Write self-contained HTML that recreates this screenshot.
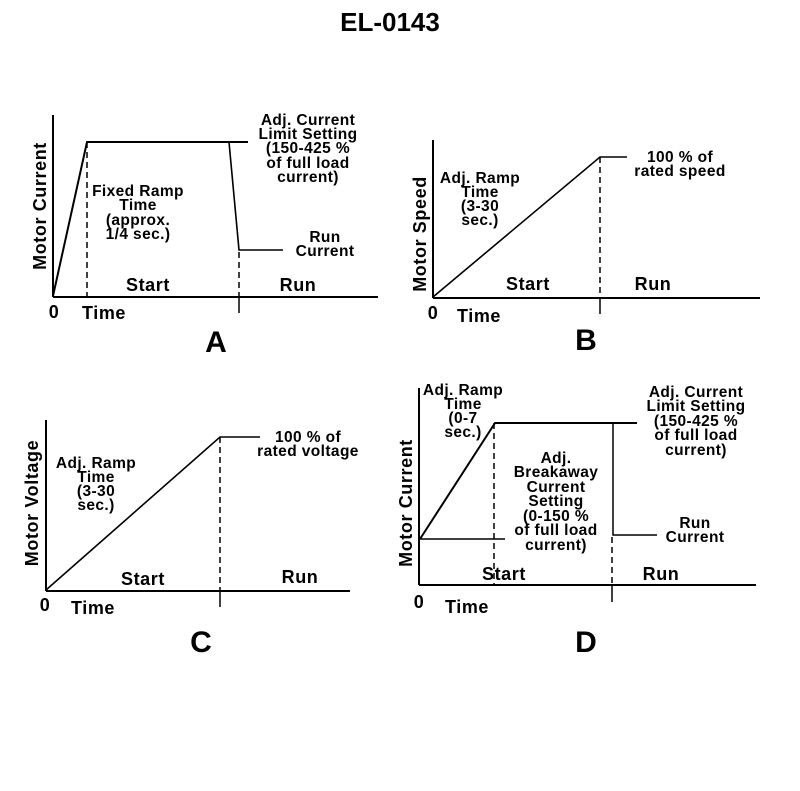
<!DOCTYPE html>
<html><head><meta charset="utf-8"><style>
body{margin:0;background:#fff}
svg text{font-family:"Liberation Sans",sans-serif;font-weight:bold;fill:#000}
.l{font-size:15.5px;letter-spacing:0.4px;text-anchor:middle}
.ax{font-size:18px;letter-spacing:0.6px;text-anchor:middle}
.big{font-size:30px;text-anchor:middle}
</style></head><body>
<svg width="800" height="786" viewBox="0 0 800 786" xmlns="http://www.w3.org/2000/svg">
<g stroke="#000" fill="none" stroke-width="2">
<!-- A -->
<line x1="53" y1="115" x2="53" y2="297"/>
<line x1="53" y1="297" x2="378" y2="297"/>
<polyline points="53,296 87,142 248,142"/>
<polyline points="229,142 239,250 283,250" stroke-width="1.6"/>
<line x1="87" y1="142" x2="87" y2="296" stroke-dasharray="6,4" stroke-width="1.5"/>
<line x1="239" y1="252" x2="239" y2="296" stroke-dasharray="6,4" stroke-width="1.5"/>
<line x1="239" y1="297" x2="239" y2="313" stroke-width="1.5"/>
<!-- B -->
<line x1="433" y1="140" x2="433" y2="298"/>
<line x1="433" y1="298" x2="760" y2="298"/>
<polyline points="433,297 600,157 627,157" stroke-width="1.6"/>
<line x1="600" y1="157" x2="600" y2="297" stroke-dasharray="6,4" stroke-width="1.5"/>
<line x1="600" y1="298" x2="600" y2="314" stroke-width="1.5"/>
<!-- C -->
<line x1="46" y1="420" x2="46" y2="591"/>
<line x1="46" y1="591" x2="350" y2="591"/>
<polyline points="46,590 220,437 260,437" stroke-width="1.6"/>
<line x1="220" y1="437" x2="220" y2="590" stroke-dasharray="6,4" stroke-width="1.5"/>
<line x1="220" y1="591" x2="220" y2="607" stroke-width="1.5"/>
<!-- D -->
<line x1="419" y1="388" x2="419" y2="585"/>
<line x1="419" y1="585" x2="756" y2="585"/>
<polyline points="420,539 495,423 637,423"/>
<line x1="419" y1="539" x2="505" y2="539" stroke-width="1.5"/>
<polyline points="613,423 613,535 657,535" stroke-width="1.5"/>
<line x1="494" y1="423" x2="494" y2="584" stroke-dasharray="6,4" stroke-width="1.5"/>
<line x1="612" y1="537" x2="612" y2="584" stroke-dasharray="6,4" stroke-width="1.5"/>
<line x1="612" y1="585" x2="612" y2="602" stroke-width="1.5"/>
</g>
<text x="390" y="31" style="font-size:26px;text-anchor:middle">EL-0143</text>
<!-- A text -->
<text class="l"><tspan x="308" y="125">Adj. Current</tspan><tspan x="308" y="139">Limit Setting</tspan><tspan x="308" y="153">(150-425 %</tspan><tspan x="308" y="168">of full load</tspan><tspan x="308" y="182">current)</tspan></text>
<text class="l"><tspan x="138" y="196">Fixed Ramp</tspan><tspan x="138" y="210">Time</tspan><tspan x="138" y="225">(approx.</tspan><tspan x="138" y="239">1/4 sec.)</tspan></text>
<text class="l"><tspan x="325" y="242">Run</tspan><tspan x="325" y="256">Current</tspan></text>
<text class="ax" x="148" y="291">Start</text>
<text class="ax" x="298" y="291">Run</text>
<text class="ax" x="54" y="318">0</text>
<text class="ax" x="104" y="319">Time</text>
<text class="ax" transform="translate(46,206) rotate(-90)">Motor Current</text>
<text class="big" x="216" y="352">A</text>
<!-- B text -->
<text class="l"><tspan x="680" y="162">100 % of</tspan><tspan x="680" y="176">rated speed</tspan></text>
<text class="l"><tspan x="480" y="183">Adj. Ramp</tspan><tspan x="480" y="197">Time</tspan><tspan x="480" y="211">(3-30</tspan><tspan x="480" y="225">sec.)</tspan></text>
<text class="ax" x="528" y="290">Start</text>
<text class="ax" x="653" y="290">Run</text>
<text class="ax" x="433" y="319">0</text>
<text class="ax" x="479" y="322">Time</text>
<text class="ax" transform="translate(426,234) rotate(-90)">Motor Speed</text>
<text class="big" x="586" y="350">B</text>
<!-- C text -->
<text class="l"><tspan x="308" y="442">100 % of</tspan><tspan x="308" y="456">rated voltage</tspan></text>
<text class="l"><tspan x="96" y="468">Adj. Ramp</tspan><tspan x="96" y="482">Time</tspan><tspan x="96" y="496">(3-30</tspan><tspan x="96" y="510">sec.)</tspan></text>
<text class="ax" x="143" y="585">Start</text>
<text class="ax" x="300" y="583">Run</text>
<text class="ax" x="45" y="611">0</text>
<text class="ax" x="93" y="614">Time</text>
<text class="ax" transform="translate(38,503) rotate(-90)">Motor Voltage</text>
<text class="big" x="201" y="652">C</text>
<!-- D text -->
<text class="l"><tspan x="463" y="395">Adj. Ramp</tspan><tspan x="463" y="409">Time</tspan><tspan x="463" y="423">(0-7</tspan><tspan x="463" y="437">sec.)</tspan></text>
<text class="l"><tspan x="696" y="397">Adj. Current</tspan><tspan x="696" y="411">Limit Setting</tspan><tspan x="696" y="426">(150-425 %</tspan><tspan x="696" y="440">of full load</tspan><tspan x="696" y="455">current)</tspan></text>
<text class="l"><tspan x="556" y="463">Adj.</tspan><tspan x="556" y="477">Breakaway</tspan><tspan x="556" y="492">Current</tspan><tspan x="556" y="506">Setting</tspan><tspan x="556" y="521">(0-150 %</tspan><tspan x="556" y="535">of full load</tspan><tspan x="556" y="550">current)</tspan></text>
<text class="l"><tspan x="695" y="528">Run</tspan><tspan x="695" y="542">Current</tspan></text>
<text class="ax" x="504" y="580">Start</text>
<text class="ax" x="661" y="580">Run</text>
<text class="ax" x="419" y="608">0</text>
<text class="ax" x="467" y="613">Time</text>
<text class="ax" transform="translate(412,503) rotate(-90)">Motor Current</text>
<text class="big" x="586" y="652">D</text>
</svg>
</body></html>
